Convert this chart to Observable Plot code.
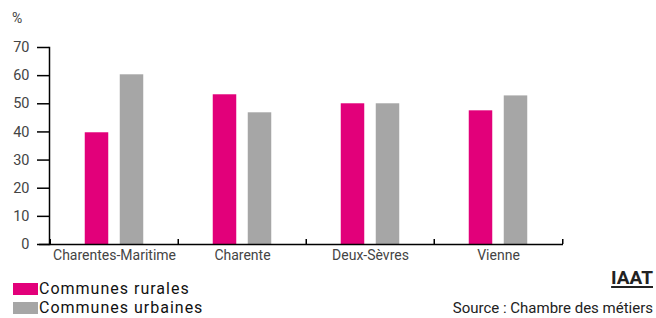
<!DOCTYPE html>
<html>
<head>
<meta charset="utf-8">
<script src="https://cdn.jsdelivr.net/npm/d3@7"></script>
<script src="https://cdn.jsdelivr.net/npm/@observablehq/plot@0.6"></script>
<style>
  html, body { margin: 0; padding: 0; background: #fff; }
  #wrap { position: relative; width: 656px; height: 318px; overflow: hidden; font-family: Roboto, "Liberation Sans", sans-serif; }
  #chart { position: absolute; left: 0; top: 0; }
  .pct { position: absolute; left: 12px; top: 10px; font-size: 14px; color: #444; }
  .leg { position: absolute; left: 13px; font-size: 16px; letter-spacing: 1px; color: #111; line-height: normal; display: flex; align-items: center; }
  .sw { display: inline-block; width: 25px; height: 12px; margin-right: 1px; }
  .iaat { position: absolute; right: 3px; top: 266px; font-size: 19px; font-weight: bold; color: #222; text-decoration: underline; text-decoration-thickness: 2px; text-underline-offset: 2px; }
  .src { position: absolute; right: 3px; top: 299px; font-size: 15px; color: #222; }
</style>
</head>
<body>
<div id="wrap">
  <div id="chart"></div>
  <div class="pct">%</div>
  <div class="leg" id="leg1" style="top:279px"></div>
  <div class="leg" id="leg2" style="top:298px"></div>
  <div class="iaat">IAAT</div>
  <div class="src">Source : Chambre des métiers</div>
</div>
<script>
const regions = ["Charentes-Maritime", "Charente", "Deux-Sèvres", "Vienne"];
const seriesNames = ["Communes rurales", "Communes urbaines"];
const rurales = [39.7, 53.2, 50.0, 47.5];
const urbaines = [60.3, 46.8, 50.0, 52.8];
const yTicks = [0, 10, 20, 30, 40, 50, 60, 70];
const colors = ["#E2007A", "#A6A6A6"];

const rural = regions.map((r, i) => ({region: r, value: rurales[i]}));
const urban = regions.map((r, i) => ({region: r, value: urbaines[i]}));

const W = 656, H = 268, ML = 49, MR = 93;
const step = (W - ML - MR) / regions.length;
const barW = 24, gap = 11;
const off = (barW + gap) / 2;
const inset = (step - barW) / 2;

const chart = Plot.plot({
  width: W,
  height: H,
  marginLeft: ML,
  marginRight: MR,
  marginTop: 47,
  marginBottom: 24,
  style: {fontFamily: "Roboto, 'Liberation Sans', sans-serif", color: "#444", background: "#fff"},
  x: {domain: regions, padding: 0},
  y: {domain: [0, 70]},
  marks: [
    Plot.barY(rural, {x: "region", y: "value", fill: colors[0], dx: -off, insetLeft: inset, insetRight: inset}),
    Plot.barY(urban, {x: "region", y: "value", fill: colors[1], dx: off, insetLeft: inset, insetRight: inset}),
    Plot.axisY({ticks: yTicks, tickSize: 12, tickPadding: 8, label: null, stroke: "#000", strokeWidth: 1.5, strokeOpacity: 1, fontSize: 14.5, fill: "#444"}),
    Plot.frame({anchor: "left", stroke: "#000", strokeWidth: 1.5}),
    Plot.ruleY([0], {stroke: "#000", strokeWidth: 1.5, insetLeft: -10}),
    Plot.axisX({tickSize: 0, tickPadding: 6, label: null, fontSize: 14, fill: "#444"}),
    Plot.axisX({ticks: regions, tickSize: -5, tickFormat: () => "", label: null, dx: -step / 2, stroke: "#000", strokeWidth: 1.5, strokeOpacity: 1}),
    Plot.axisX({ticks: [regions[regions.length - 1]], tickSize: -5, tickFormat: () => "", label: null, dx: step / 2, stroke: "#000", strokeWidth: 1.5, strokeOpacity: 1})
  ]
});
document.getElementById("chart").appendChild(chart);

["leg1", "leg2"].forEach((id, i) => {
  const el = document.getElementById(id);
  const sw = document.createElement("span");
  sw.className = "sw";
  sw.style.background = colors[i];
  el.appendChild(sw);
  el.appendChild(document.createTextNode(seriesNames[i]));
});
</script>
</body>
</html>
